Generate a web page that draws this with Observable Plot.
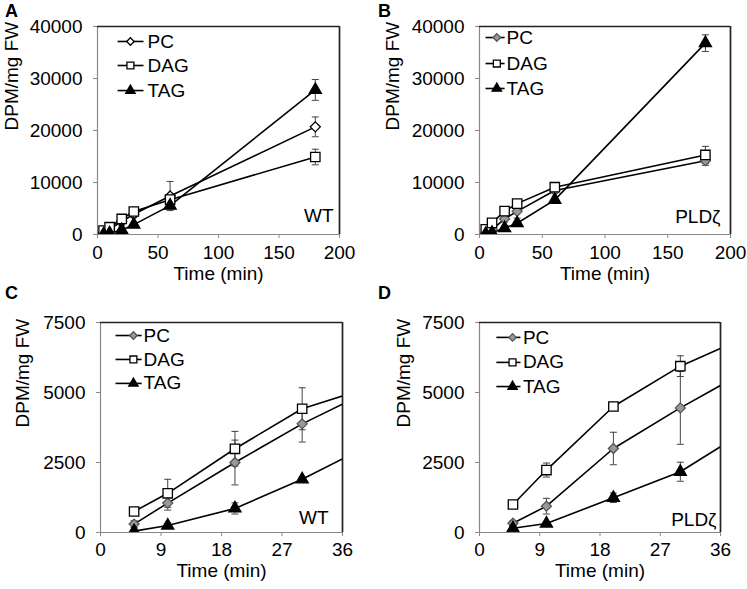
<!DOCTYPE html>
<html>
<head>
<meta charset="utf-8">
<script src="https://cdn.jsdelivr.net/npm/d3@7"></script>
<script src="https://cdn.jsdelivr.net/npm/@observablehq/plot@0.6"></script>
<style>
  html, body { margin: 0; padding: 0; background: white; }
  #root { position: relative; width: 747px; height: 589px; background: white; overflow: hidden; font-family: "Liberation Sans", Arial, sans-serif; }
  .panel { position: absolute; }
  .letter { position: absolute; font-weight: bold; font-size: 18px; font-family: "Liberation Sans", Arial, sans-serif; color: #000; }
</style>
</head>
<body>
<div id="root"></div>
<script>
// ---- Data ----
const time = [5, 10, 20, 30, 60, 180];
const seriesNames = ["PC", "DAG", "TAG"];

// WT (panels A and C)
const wtPC     = [300, 1050, 2500, 3880, 7400, 20700];
const wtPCErr  = [120, 250, 800, 650, 2800, 1900];
const wtDAG    = [750, 1400, 2990, 4420, 6700, 14900];
const wtDAGErr = [100, 500, 620, 750, 700, 1500];
const wtTAG    = [50, 250, 860, 1900, 5550, 27800];
const wtTAGErr = [30, 50, 200, 80, 400, 2000];

// PLDζ (panels B and D)
const pldPC     = [330, 940, 3000, 4450, 8450, 14200];
const pldPCErr  = [80, 280, 580, 1300, 500, 900];
const pldDAG    = [1000, 2230, 4500, 5940, 9100, 15300];
const pldDAGErr = [60, 250, 100, 370, 400, 1650];
const pldTAG    = [150, 320, 1240, 2170, 6650, 36800];
const pldTAGErr = [40, 60, 170, 340, 350, 1600];

const xTicksFull = [0, 50, 100, 150, 200];
const yTicksFull = [0, 10000, 20000, 30000, 40000];
const xTicksZoom = [0, 9, 18, 27, 36];
const yTicksZoom = [0, 2500, 5000, 7500];

const xLabel = "Time (min)";
const yLabel = "DPM/mg FW";

const FS = 19;

function rowsFor(pc, pcE, dag, dagE, tag, tagE) {
  const vals = {PC: [pc, pcE], DAG: [dag, dagE], TAG: [tag, tagE]};
  const rows = [];
  for (const s of seriesNames) {
    time.forEach((t, i) => rows.push({series: s, t, v: vals[s][0][i], e: vals[s][1][i]}));
  }
  return rows;
}
const wtRows = rowsFor(wtPC, wtPCErr, wtDAG, wtDAGErr, wtTAG, wtTAGErr);
const pldRows = rowsFor(pldPC, pldPCErr, pldDAG, pldDAGErr, pldTAG, pldTAGErr);

const capSymbol = { draw(ctx) { ctx.moveTo(-3.5, 0); ctx.lineTo(3.5, 0); } };

function panel(cfg) {
  const {rows, xmax, ymax, xticks, yticks, pcFill, annot, lg} = cfg;
  const fillOf = {PC: pcFill, DAG: "white", TAG: "black"};
  const symOf = {PC: "diamond2", DAG: "square", TAG: "triangle"};
  const rOf = {PC: 4.5, DAG: 5.3, TAG: 4.5};
  const lrOf = {PC: 3.4, DAG: 3.9, TAG: 3.5};
  const markersFor = (s, data, rmap) => Plot.dot(data.filter(d => d.series === s), {
    x: "t", y: "v", symbol: symOf[s], r: rmap[s], fill: fillOf[s],
    stroke: s === "PC" && pcFill !== "white" ? "#555" : "black", strokeWidth: 1.3, clip: true
  });
  const legendRows = seriesNames.map((s, i) => ({
    series: s, x1: xmax * lg.x1, x2: xmax * lg.x2, xt: xmax * lg.xt,
    t: xmax * lg.xm, v: ymax * (1 - lg.y[i])
  }));
  const marks = [
    Plot.axisX({ticks: xticks, tickSize: 4, tickPadding: cfg.xPad, stroke: "#888", label: null, fontSize: FS}),
    Plot.axisY({ticks: yticks, tickSize: 4, tickPadding: cfg.yPad, stroke: "#888", label: null, fontSize: FS, tickFormat: d3.format("d")}),
    Plot.ruleY([0], {stroke: "#888", strokeWidth: 1.2}),
    Plot.ruleX([0], {stroke: "#888", strokeWidth: 1.2}),
    Plot.ruleY([ymax], {stroke: "#222", strokeWidth: 1.7}),
    Plot.ruleX([xmax], {stroke: "#222", strokeWidth: 1.7}),
    Plot.line(rows, {x: "t", y: "v", z: "series", stroke: "black", strokeWidth: 1.6, clip: true}),
    Plot.ruleX(rows, {x: "t", y1: d => d.v - d.e, y2: d => d.v + d.e, stroke: "#444", strokeWidth: 1, clip: true}),
    Plot.dot(rows, {x: "t", y: d => d.v + d.e, symbol: capSymbol, stroke: "#444", strokeWidth: 1, clip: true}),
    Plot.dot(rows, {x: "t", y: d => d.v - d.e, symbol: capSymbol, stroke: "#444", strokeWidth: 1, clip: true}),
    ...seriesNames.map(s => markersFor(s, rows, rOf)),
    // legend
    Plot.link(legendRows, {x1: "x1", x2: "x2", y1: "v", y2: "v", stroke: "black", strokeWidth: 1.6}),
    ...seriesNames.map(s => markersFor(s, legendRows, lrOf)),
    Plot.text(legendRows, {x: "xt", y: "v", text: "series", textAnchor: "start", fontSize: FS, fill: "black"}),
    // annotation and axis titles
    Plot.text([annot], {frameAnchor: "bottom-right", lineAnchor: "bottom", dx: cfg.annDx, dy: cfg.annDy, textAnchor: "end", fontSize: FS, fill: "black"}),
    Plot.text([xLabel], {frameAnchor: "bottom", lineAnchor: "bottom", dy: cfg.xTitleDy, fontSize: FS, fill: "black"}),
    Plot.text([yLabel], {frameAnchor: "left", dx: cfg.yTitleDx, rotate: -90, fontSize: FS, fill: "black"})
  ];
  const chart = Plot.plot({
    width: cfg.w, height: cfg.h,
    marginLeft: cfg.ml, marginRight: cfg.mr, marginTop: cfg.mt, marginBottom: cfg.mb,
    style: {fontFamily: "Liberation Sans, Arial, sans-serif", fontSize: FS + "px", color: "black", background: "transparent", overflow: "visible"},
    x: {domain: [0, xmax]},
    y: {domain: [0, ymax]},
    marks
  });
  const div = document.createElement("div");
  div.className = "panel";
  div.style.left = cfg.left + "px";
  div.style.top = cfg.top + "px";
  div.appendChild(chart);
  const letter = document.createElement("div");
  letter.className = "letter";
  letter.textContent = cfg.letter;
  letter.style.left = cfg.letterX + "px";
  letter.style.top = cfg.letterY + "px";
  const root = document.getElementById("root");
  root.appendChild(div);
  root.appendChild(letter);
}

panel({letter: "A", letterX: 5, letterY: 1, left: 0, top: 0, w: 373, h: 290, ml: 97, mr: 34, mt: 26, mb: 56,
  rows: wtRows, xmax: 200, ymax: 40000, xticks: xTicksFull, yticks: yTicksFull, pcFill: "white", annot: "WT",
  xPad: 7, yPad: 11, annDx: -6, annDy: -13, xTitleDy: 45, yTitleDx: -86,
  lg: {x1: 0.083, x2: 0.19, xm: 0.136, xt: 0.207, y: [0.072, 0.1875, 0.308]}});

panel({letter: "B", letterX: 378, letterY: 1, left: 373, top: 0, w: 374, h: 290, ml: 106, mr: 17, mt: 26, mb: 56,
  rows: pldRows, xmax: 200, ymax: 40000, xticks: xTicksFull, yticks: yTicksFull, pcFill: "#999", annot: "PLDζ",
  xPad: 7, yPad: 11, annDx: -10, annDy: -12, xTitleDy: 45, yTitleDx: -87,
  lg: {x1: 0.024, x2: 0.10, xm: 0.069, xt: 0.108, y: [0.053, 0.178, 0.298]}});

panel({letter: "C", letterX: 5, letterY: 283, left: 0, top: 280, w: 373, h: 309, ml: 100, mr: 31, mt: 42, mb: 57,
  rows: wtRows, xmax: 36, ymax: 7500, xticks: xTicksZoom, yticks: yTicksZoom, pcFill: "#999", annot: "WT",
  xPad: 6, yPad: 11, annDx: -14, annDy: -9, xTitleDy: 44, yTitleDx: -78,
  lg: {x1: 0.062, x2: 0.17, xm: 0.136, xt: 0.178, y: [0.062, 0.176, 0.29]}});

panel({letter: "D", letterX: 378, letterY: 283, left: 373, top: 280, w: 374, h: 309, ml: 106, mr: 27, mt: 42, mb: 57,
  rows: pldRows, xmax: 36, ymax: 7500, xticks: xTicksZoom, yticks: yTicksZoom, pcFill: "#999", annot: "PLDζ",
  xPad: 6, yPad: 11, annDx: -4, annDy: -7, xTitleDy: 44, yTitleDx: -76,
  lg: {x1: 0.07, x2: 0.17, xm: 0.137, xt: 0.18, y: [0.071, 0.19, 0.305]}});
</script>
</body>
</html>
